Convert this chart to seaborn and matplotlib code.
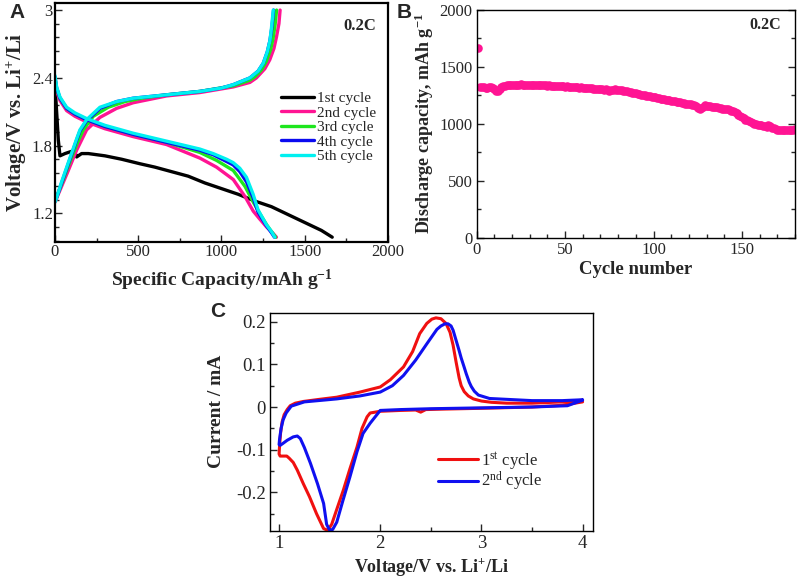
import numpy as np
import pandas as pd
import matplotlib
matplotlib.use("Agg")
import matplotlib.pyplot as plt
from matplotlib.ticker import MultipleLocator, FuncFormatter
import seaborn as sns

# ---------------- data: panel A (galvanostatic profiles) ----------------
c1_dis_cap = [0, 5, 12, 20, 30, 60, 100, 120, 130, 140, 160, 200, 300, 400, 510, 600, 700, 800,
              900, 1000, 1100, 1200, 1300, 1400, 1500, 1600, 1665]
c1_dis_v = [2.30, 2.22, 2.05, 1.85, 1.71, 1.73, 1.75, 1.74, 1.70, 1.71, 1.73, 1.73, 1.71, 1.68, 1.64,
            1.61, 1.57, 1.53, 1.47, 1.42, 1.37, 1.31, 1.26, 1.19, 1.12, 1.05, 0.99]

c2_dis_cap = [0, 10, 30, 70, 120, 190, 300, 470, 670, 870, 970, 1071, 1141, 1191, 1230, 1271, 1300, 1330]
c2_dis_v = [2.38, 2.28, 2.20, 2.11, 2.06, 2.01, 1.95, 1.88, 1.81, 1.69, 1.61, 1.50, 1.35, 1.22, 1.15, 1.08, 1.04, 0.99]
c2_chg_cap = [0, 40, 80, 130, 190, 270, 370, 470, 670, 870, 1071, 1171, 1210, 1260, 1290, 1315, 1330, 1345, 1352]
c2_chg_v = [1.30, 1.44, 1.58, 1.76, 1.94, 2.05, 2.13, 2.18, 2.24, 2.27, 2.32, 2.36, 2.40, 2.48, 2.56, 2.66, 2.76, 2.88, 3.00]

c3_dis_cap = [0, 10, 30, 70, 120, 190, 300, 470, 670, 870, 970, 1071, 1141, 1191, 1230, 1271, 1300, 1325]
c3_dis_v = [2.40, 2.30, 2.22, 2.13, 2.08, 2.03, 1.97, 1.90, 1.83, 1.74, 1.67, 1.58, 1.44, 1.30, 1.20, 1.10, 1.04, 0.99]
c3_chg_cap = [0, 40, 80, 130, 170, 230, 320, 420, 520, 670, 870, 1071, 1171, 1200, 1240, 1270, 1295, 1310, 1322, 1331]
c3_chg_v = [1.31, 1.46, 1.62, 1.81, 1.94, 2.06, 2.14, 2.19, 2.22, 2.25, 2.28, 2.33, 2.38, 2.41, 2.47, 2.55, 2.65, 2.75, 2.87, 3.00]

c4_dis_cap = [0, 10, 30, 70, 120, 190, 300, 470, 670, 870, 950, 1030, 1070, 1110, 1150, 1190, 1220, 1270, 1300, 1318]
c4_dis_v = [2.41, 2.31, 2.22, 2.13, 2.08, 2.03, 1.97, 1.90, 1.83, 1.76, 1.72, 1.66, 1.63, 1.57, 1.48, 1.34, 1.21, 1.09, 1.03, 0.99]
c4_chg_cap = [0, 10, 40, 80, 130, 150, 190, 270, 370, 470, 670, 870, 1000, 1071, 1171, 1220, 1251, 1275, 1291, 1303, 1313]
c4_chg_v = [1.31, 1.34, 1.47, 1.64, 1.85, 1.93, 2.02, 2.13, 2.19, 2.22, 2.25, 2.28, 2.31, 2.34, 2.40, 2.46, 2.53, 2.63, 2.73, 2.85, 3.00]

c5_dis_cap = [0, 10, 30, 70, 120, 190, 300, 470, 670, 870, 950, 1030, 1070, 1110, 1150, 1190, 1220, 1270, 1300, 1320]
c5_dis_v = [2.42, 2.32, 2.23, 2.14, 2.09, 2.04, 1.98, 1.91, 1.84, 1.77, 1.73, 1.68, 1.65, 1.60, 1.52, 1.37, 1.23, 1.10, 1.04, 0.99]
c5_chg_cap = [0, 10, 40, 80, 130, 150, 190, 270, 370, 470, 670, 870, 1000, 1071, 1171, 1220, 1251, 1275, 1291, 1300, 1311]
c5_chg_v = [1.30, 1.34, 1.48, 1.65, 1.86, 1.94, 2.03, 2.14, 2.19, 2.22, 2.25, 2.28, 2.31, 2.34, 2.40, 2.46, 2.53, 2.63, 2.73, 2.84, 3.00]

cycle_labels = ["1st cycle", "2nd cycle", "3rd cycle", "4th cycle", "5th cycle"]
cycle_colors = ["#000000", "#FF1493", "#1EE61E", "#0A0AF0", "#00F0F0"]

# ---------------- data: panel B (cycling) ----------------
cycle_no = list(range(1, 181))
discharge_cap = [
    1660, 1325, 1320, 1318, 1315, 1312, 1318, 1322, 1315, 1300,
    1285, 1290, 1305, 1320, 1328, 1332, 1335, 1338, 1340, 1342,
    1340, 1342, 1338, 1340, 1343, 1341, 1338, 1342, 1340, 1338,
    1340, 1337, 1339, 1341, 1338, 1336, 1338, 1335, 1337, 1334,
    1335, 1332, 1334, 1330, 1332, 1328, 1330, 1327, 1328, 1325,
    1326, 1322, 1324, 1320, 1322, 1318, 1320, 1316, 1318, 1315,
    1316, 1312, 1310, 1312, 1308, 1305, 1307, 1303, 1305, 1300,
    1302, 1298, 1300, 1295, 1285, 1292, 1298, 1300, 1298, 1296,
    1294, 1292, 1288, 1285, 1282, 1278, 1275, 1272, 1268, 1265,
    1262, 1258, 1255, 1250, 1248, 1244, 1240, 1238, 1235, 1232,
    1230, 1226, 1222, 1220, 1216, 1214, 1210, 1206, 1204, 1200,
    1198, 1194, 1192, 1188, 1186, 1182, 1180, 1176, 1174, 1170,
    1168, 1165, 1160, 1156, 1140, 1128, 1135, 1150, 1160, 1158,
    1155, 1152, 1150, 1148, 1145, 1142, 1138, 1135, 1132, 1130,
    1128, 1124, 1120, 1115, 1108, 1100, 1090, 1075, 1065, 1055,
    1045, 1035, 1028, 1020, 1012, 1005, 1000, 996, 992, 988,
    984, 980, 976, 972, 988, 978, 965, 958, 952, 948,
    944, 942, 940, 942, 945, 943, 940, 944, 948, 952,
]

# ---------------- data: panel C (cyclic voltammetry) ----------------
cv1_v = [4.0, 3.8, 3.5, 3.0, 2.6, 2.45, 2.4, 2.35, 2.2, 2.0, 1.9, 1.87, 1.82, 1.77, 1.70, 1.635,
         1.57, 1.52, 1.48, 1.44, 1.37, 1.30, 1.24, 1.18, 1.14, 1.10, 1.076, 1.04, 1.01, 1.0,
         1.005, 1.015, 1.03, 1.05, 1.08, 1.11, 1.16, 1.24, 1.40, 1.57, 1.80, 2.0, 2.10, 2.23,
         2.32, 2.39, 2.46, 2.51, 2.55, 2.60, 2.65, 2.69, 2.72, 2.75, 2.78, 2.80, 2.83, 2.87,
         2.92, 3.0, 3.1, 3.25, 3.5, 3.8, 4.0]
cv1_i = [0.012, 0.004, 0.0, -0.003, -0.005, -0.006, -0.012, -0.007, -0.008, -0.010, -0.014,
         -0.023, -0.05, -0.094, -0.145, -0.195, -0.24, -0.275, -0.289, -0.285, -0.25, -0.21,
         -0.18, -0.148, -0.13, -0.12, -0.115, -0.115, -0.115, -0.11, -0.09, -0.06, -0.035,
         -0.018, -0.006, 0.003, 0.009, 0.013, 0.018, 0.023, 0.035, 0.047, 0.064, 0.094, 0.13,
         0.172, 0.196, 0.206, 0.209, 0.207, 0.196, 0.175, 0.145, 0.105, 0.068, 0.050, 0.036,
         0.026, 0.019, 0.014, 0.011, 0.009, 0.009, 0.012, 0.016]

cv2_v = [4.0, 3.85, 3.5, 3.0, 2.5, 2.2, 2.0, 1.96, 1.90, 1.83, 1.77, 1.70, 1.63, 1.57, 1.53,
         1.50, 1.47, 1.44, 1.38, 1.31, 1.25, 1.21, 1.18, 1.14, 1.08, 1.04, 1.01, 1.0, 1.005,
         1.02, 1.04, 1.07, 1.12, 1.25, 1.57, 1.80, 2.0, 2.12, 2.23, 2.35, 2.46, 2.56, 2.60,
         2.64, 2.67, 2.70, 2.72, 2.75, 2.78, 2.80, 2.83, 2.85, 2.88, 2.90, 2.93, 2.97, 3.08,
         3.5, 3.8, 4.0]
cv2_i = [0.016, 0.003, 0.0, -0.002, -0.004, -0.006, -0.008, -0.02, -0.038, -0.062, -0.105,
         -0.164, -0.22, -0.27, -0.287, -0.289, -0.275, -0.226, -0.18, -0.132, -0.095, -0.074,
         -0.068, -0.07, -0.078, -0.085, -0.09, -0.088, -0.075, -0.05, -0.03, -0.014, 0.002,
         0.012, 0.019, 0.026, 0.035, 0.05, 0.074, 0.11, 0.148, 0.182, 0.190, 0.195, 0.195,
         0.190, 0.180, 0.156, 0.132, 0.115, 0.093, 0.078, 0.058, 0.048, 0.037, 0.028, 0.02,
         0.015, 0.015, 0.017]

# ---------------- style ----------------
sns.set_style("ticks")
plt.rcParams["font.family"] = ["Liberation Serif", "DejaVu Serif"]
plt.rcParams["mathtext.fontset"] = "custom"
plt.rcParams["mathtext.rm"] = "Liberation Serif"
plt.rcParams["mathtext.bf"] = "Liberation Serif:bold"
plt.rcParams["mathtext.default"] = "regular"
plt.rcParams["axes.unicode_minus"] = False
plt.rcParams["xtick.direction"] = "in"
plt.rcParams["ytick.direction"] = "in"

fmt_g = FuncFormatter(lambda v, _: f"{v:g}")


def style_axes(ax, lw, right=False, size=12, pad=3):
    for sp in ax.spines.values():
        sp.set_linewidth(lw)
        sp.set_color("black")
        sp.set_visible(True)
    ax.tick_params(which="major", length=5, width=1, labelsize=size, pad=pad, right=right)
    ax.tick_params(which="minor", length=3, width=1, right=right)
    ax.grid(False)


def draw_line(ax, xs, ys, color, lw, label=None):
    sns.lineplot(x=xs, y=ys, sort=False, estimator=None, color=color, lw=lw,
                 label=label, ax=ax)


fig = plt.figure(figsize=(7.99, 5.77), dpi=100)

# ---------------- panel A ----------------
axA = fig.add_axes([0.0688, 0.5811, 0.4168, 0.4132])
curves = [
    (c1_dis_cap, c1_dis_v, None, None),
    (c2_dis_cap, c2_dis_v, c2_chg_cap, c2_chg_v),
    (c3_dis_cap, c3_dis_v, c3_chg_cap, c3_chg_v),
    (c4_dis_cap, c4_dis_v, c4_chg_cap, c4_chg_v),
    (c5_dis_cap, c5_dis_v, c5_chg_cap, c5_chg_v),
]
for (dc, dv, cc, cv), lab, col in zip(curves, cycle_labels, cycle_colors):
    draw_line(axA, dc, dv, col, 2.4, lab)
    if cc is not None:
        draw_line(axA, cc, cv, col, 2.4)
axA.set_xlim(0, 2000)
axA.set_ylim(0.95, 3.06)
axA.set_xticks([0, 500, 1000, 1500, 2000])
axA.set_yticks([1.2, 1.8, 2.4, 3.0])
axA.xaxis.set_minor_locator(MultipleLocator(250))
axA.yaxis.set_minor_locator(MultipleLocator(0.12))
axA.yaxis.set_major_formatter(fmt_g)
style_axes(axA, 1.6, pad=1.5)
axA.set_xlabel("Specific Capacity/mAh g$^{-1}$", fontsize=14, fontweight="bold", labelpad=6)
axA.set_ylabel("Voltage/V vs. Li$^{+}$/Li", fontsize=15, fontweight="bold", labelpad=2)
axA.legend(loc="upper left", bbox_to_anchor=(0.66, 0.655), frameon=False, fontsize=11,
           handlelength=2.2, handletextpad=0.15, labelspacing=0.05, borderaxespad=0)
axA.text(0.915, 0.905, "0.2C", transform=axA.transAxes, ha="center", va="center",
         fontsize=12, fontweight="bold")

# ---------------- panel B ----------------
axB = fig.add_axes([0.5966, 0.588, 0.3984, 0.3955])
dfB = pd.DataFrame({"cycle": cycle_no, "capacity": discharge_cap})
sns.scatterplot(data=dfB, x="cycle", y="capacity", color="#FF1493", s=38, linewidth=0, ax=axB)
axB.set_xlim(0, 180)
axB.set_ylim(0, 2000)
axB.set_xticks([0, 50, 100, 150])
axB.set_yticks([0, 500, 1000, 1500, 2000])
axB.xaxis.set_minor_locator(MultipleLocator(10))
axB.yaxis.set_minor_locator(MultipleLocator(250))
style_axes(axB, 1.0, right=True)
axB.set_xlabel("Cycle number", fontsize=13.5, fontweight="bold", labelpad=2)
axB.set_ylabel("Discharge capacity, mAh g$^{-1}$", fontsize=13, fontweight="bold")
axB.yaxis.set_label_coords(-0.128, 0.5)
axB.text(0.906, 0.93, "0.2C", transform=axB.transAxes, ha="center", va="center",
         fontsize=11.5, fontweight="bold")

# ---------------- panel C ----------------
axC = fig.add_axes([0.3379, 0.0802, 0.4039, 0.3778])
draw_line(axC, cv1_v, cv1_i, "#F01010", 2.2, "1$^{st}$ cycle")
draw_line(axC, cv2_v, cv2_i, "#1010F0", 2.2, "2$^{nd}$ cycle")
axC.set_xlim(0.91, 4.1)
axC.set_ylim(-0.29, 0.221)
axC.set_xticks([1, 2, 3, 4])
axC.set_yticks([-0.2, -0.1, 0, 0.1, 0.2])
axC.xaxis.set_minor_locator(MultipleLocator(0.5))
axC.yaxis.set_minor_locator(MultipleLocator(0.05))
axC.yaxis.set_major_formatter(fmt_g)
style_axes(axC, 1.0, size=13.5)
axC.set_xlabel("Voltage/V vs. Li$^{+}$/Li", fontsize=13, fontweight="bold", labelpad=3)
axC.set_ylabel("Current / mA", fontsize=14, fontweight="bold")
axC.yaxis.set_label_coords(-0.14, 0.55)
axC.legend(loc="upper left", bbox_to_anchor=(0.5, 0.40), frameon=False, fontsize=12,
           handlelength=2.4, handletextpad=0.2, labelspacing=-0.1, borderaxespad=0)

# panel letters
for lbl, xx, yy in [("A", 0.021, 0.978), ("B", 0.506, 0.978), ("C", 0.273, 0.461)]:
    fig.text(xx, yy, lbl, fontsize=15, fontweight="bold", family="Liberation Sans",
             ha="center", va="center")

fig.savefig("out.png", dpi=100)
